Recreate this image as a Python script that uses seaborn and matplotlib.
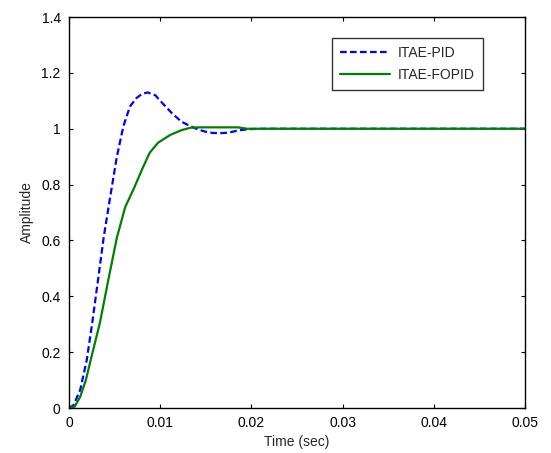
import pandas as pd
import seaborn as sns
import matplotlib.pyplot as plt

# step response values
t_pid = [0, 0.0005, 0.00123, 0.00195, 0.00257, 0.00319, 0.0038, 0.00453, 0.00525, 0.00597,
         0.00669, 0.0074, 0.00802, 0.00864, 0.00946, 0.01029, 0.01131, 0.01234, 0.01327,
         0.01409, 0.01491, 0.01574, 0.01656, 0.01748, 0.01872, 0.02006, 0.0216, 0.025,
         0.03, 0.04, 0.05]
y_pid = [0, 0.01, 0.065, 0.172, 0.31, 0.46, 0.61, 0.758, 0.90, 1.01,
         1.08, 1.11, 1.125, 1.13, 1.12, 1.09, 1.055, 1.025, 1.01,
         0.998, 0.99, 0.985, 0.984, 0.986, 0.995, 0.999, 1.0, 1.0,
         1.0, 1.0, 1.0]

t_fopid = [0, 0.00062, 0.00123, 0.00185, 0.00247, 0.00339, 0.00432, 0.00525, 0.00617, 0.0071,
           0.00802, 0.00885, 0.00977, 0.01111, 0.01234, 0.01337, 0.0144, 0.01646, 0.01851,
           0.01954, 0.02057, 0.03, 0.04, 0.05]
y_fopid = [0, 0.005, 0.04, 0.10, 0.184, 0.305, 0.46, 0.61, 0.72, 0.785,
           0.855, 0.914, 0.95, 0.978, 0.995, 1.004, 1.005, 1.005, 1.005,
           1.0, 1.0, 1.0, 1.0, 1.0]

df = pd.concat([
    pd.DataFrame({"t": t_pid, "y": y_pid, "ctrl": "ITAE-PID"}),
    pd.DataFrame({"t": t_fopid, "y": y_fopid, "ctrl": "ITAE-FOPID"}),
])

sns.set_style("white")
plt.rcParams["font.family"] = ["Liberation Sans", "DejaVu Sans"]

fig = plt.figure(figsize=(5.51, 4.53), dpi=100)
ax = fig.add_axes([0.1252, 0.0993, 0.8276, 0.8631])

sns.lineplot(data=df, x="t", y="y", hue="ctrl", style="ctrl",
             palette={"ITAE-PID": "#0000ff", "ITAE-FOPID": "#008000"},
             dashes={"ITAE-PID": (3, 1.5), "ITAE-FOPID": ""},
             linewidth=1.6, sort=False, ax=ax)

ax.set_xlim(0, 0.05)
ax.set_ylim(0, 1.4)
ax.set_xticks([0, 0.01, 0.02, 0.03, 0.04, 0.05])
ax.set_xticklabels(["0", "0.01", "0.02", "0.03", "0.04", "0.05"])
ax.set_yticks([0, 0.2, 0.4, 0.6, 0.8, 1.0, 1.2, 1.4])
ax.set_yticklabels(["0", "0.2", "0.4", "0.6", "0.8", "1", "1.2", "1.4"])
ax.tick_params(direction="in", length=3, width=0.8, labelsize=10, colors="black",
               pad=6, bottom=True, left=True, top=True, right=True)
for s in ax.spines.values():
    s.set_visible(True)
    s.set_color("black")
    s.set_linewidth(1.0)

ax.set_xlabel("Time (sec)", fontsize=10, labelpad=3)
ax.set_ylabel("Amplitude", fontsize=10, labelpad=5)

leg = ax.legend(loc="upper left", bbox_to_anchor=(0.577, 0.946), fontsize=10,
                frameon=True, fancybox=False, handlelength=3.6, handletextpad=0.6,
                borderpad=0.55, labelspacing=0.6, borderaxespad=0)
leg.get_frame().set_edgecolor("black")
leg.get_frame().set_linewidth(1.0)
# stretch the box a little to the right like the reference
fig.canvas.draw()
fr = leg.get_frame()
fr.set_width(fr.get_width() + 6)

fig.savefig("out.png", dpi=100)
